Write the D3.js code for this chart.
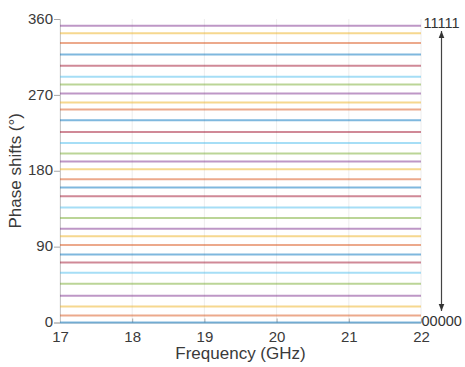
<!DOCTYPE html>
<html>
<head>
<meta charset="utf-8">
<script src="https://cdnjs.cloudflare.com/ajax/libs/d3/7.8.5/d3.min.js"></script>
<style>
  html, body { margin: 0; padding: 0; background: #fff; }
  #chart { width: 465px; height: 367px; }
  text { font-family: "Liberation Sans", Arial, sans-serif; }
</style>
</head>
<body>
<div id="chart"></div>
<script>
// frequency span (GHz) and phase per state 00000 .. 11111 (degrees)
const freqs = [17, 22];
const phases = [
  0, 8.3, 19, 31.7, 46, 59, 71.3, 80.8,
  91.8, 102.2, 111.3, 123.9, 136.3, 149.7, 160, 169.9,
  181.8, 190.9, 200.4, 213, 226.1, 240, 252.7, 261,
  271.7, 282.4, 291.4, 304.5, 318, 331.5, 343, 352
];
const xTicks = [17, 18, 19, 20, 21, 22];
const yTicks = [0, 90, 180, 270, 360];
const colors = ['#0072BD', '#D95319', '#EDB120', '#7E2F8E', '#77AC30', '#4DBEEE', '#A2142F'];

const W = 465, H = 367;
const margin = { top: 19, right: 44, bottom: 44.5, left: 60 };

const svg = d3.select('#chart').append('svg')
  .attr('width', W)
  .attr('height', H);

const x = d3.scaleLinear().domain([17, 22]).range([margin.left, W - margin.right]);
const y = d3.scaleLinear().domain([0, 360]).range([H - margin.bottom, margin.top]);

// vertical grid
svg.append('g')
  .selectAll('line')
  .data(xTicks)
  .enter().append('line')
  .attr('x1', d => x(d)).attr('x2', d => x(d))
  .attr('y1', y(0)).attr('y2', y(360))
  .attr('stroke', '#e8e8e8')
  .attr('stroke-width', 0.8);

// axes
const xAxis = svg.append('g')
  .attr('transform', `translate(0,${y(0)})`)
  .call(d3.axisBottom(x).tickValues(xTicks).tickFormat(d3.format('d')).tickSize(-4).tickPadding(9));
const yAxis = svg.append('g')
  .attr('transform', `translate(${x(17)},0)`)
  .call(d3.axisLeft(y).tickValues(yTicks).tickSize(6).tickPadding(1));

[xAxis, yAxis].forEach(a => {
  a.select('.domain').attr('stroke', '#c8c8c8');
  a.selectAll('.tick line').attr('stroke', '#a8a8a8');
  a.selectAll('.tick text')
    .attr('fill', '#3a3a3a')
    .style('font-size', '15px')
    .style('font-family', '"Liberation Sans", Arial, sans-serif');
});
yAxis.selectAll('.tick text').attr('dy', '0.28em');

// phase lines
const line = d3.line()
  .x(d => x(d[0]))
  .y(d => y(d[1]));

svg.append('g')
  .selectAll('path')
  .data(phases)
  .enter().append('path')
  .attr('d', p => line(freqs.map(f => [f, p])))
  .attr('fill', 'none')
  .attr('stroke', (p, i) => colors[i % colors.length])
  .attr('stroke-opacity', 0.5)
  .attr('stroke-width', 2);

// axis labels
svg.append('text')
  .attr('x', (x(17) + x(22)) / 2)
  .attr('y', 359)
  .attr('text-anchor', 'middle')
  .attr('fill', '#3a3a3a')
  .style('font-size', '17px')
  .text('Frequency (GHz)');

svg.append('text')
  .attr('transform', `translate(21,${(y(0) + y(360)) / 2}) rotate(-90)`)
  .attr('text-anchor', 'middle')
  .attr('fill', '#3a3a3a')
  .style('font-size', '17px')
  .text('Phase shifts (°)');

// state annotations + double arrow
svg.append('defs').append('marker')
  .attr('id', 'head')
  .attr('viewBox', '0 0 10 10')
  .attr('refX', 10).attr('refY', 5)
  .attr('markerWidth', 6).attr('markerHeight', 6)
  .attr('orient', 'auto-start-reverse')
  .append('path')
  .attr('d', 'M0,1 L10,5 L0,9 Z')
  .attr('fill', '#333');

svg.append('line')
  .attr('x1', 441.5).attr('x2', 441.5)
  .attr('y1', 31).attr('y2', 311)
  .attr('stroke', '#444')
  .attr('stroke-width', 1.2)
  .attr('marker-start', 'url(#head)')
  .attr('marker-end', 'url(#head)');

svg.append('text')
  .attr('x', 423.5).attr('y', 28)
  .attr('fill', '#333')
  .style('font-size', '14.5px')
  .text('11111');

svg.append('text')
  .attr('x', 421.5).attr('y', 325.5)
  .attr('fill', '#333')
  .style('font-size', '14.5px')
  .text('00000');
</script>
</body>
</html>
